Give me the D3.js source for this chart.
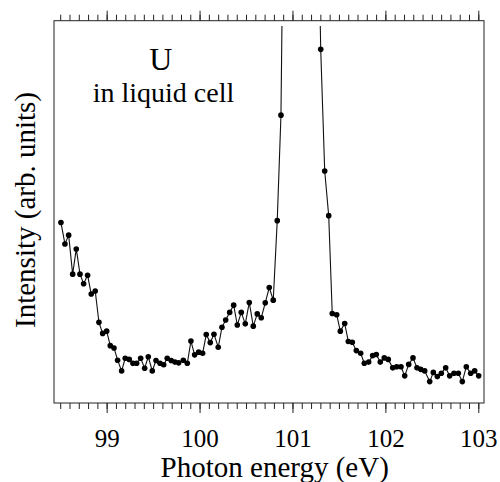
<!DOCTYPE html>
<html>
<head>
<meta charset="utf-8">
<script src="https://cdn.jsdelivr.net/npm/d3@7"></script>
<style>
  html, body { margin: 0; padding: 0; background: #fff; }
  svg { display: block; }
</style>
</head>
<body>
<svg id="chart" width="500" height="482"></svg>
<script>
// Photon energy (eV) of each measured point
const energy = [
  98.508, 98.551, 98.591, 98.634, 98.673, 98.713, 98.752, 98.795, 98.834, 98.877,
  98.917, 98.957, 99.000, 99.039, 99.079, 99.118, 99.161, 99.200, 99.243, 99.283,
  99.323, 99.366, 99.409, 99.448, 99.491, 99.531, 99.574, 99.614, 99.652, 99.695,
  99.735, 99.775, 99.825, 99.868, 99.907, 99.947, 99.990, 100.033, 100.072, 100.115,
  100.155, 100.201, 100.241, 100.281, 100.324, 100.367, 100.406, 100.449, 100.492, 100.535,
  100.578, 100.621, 100.664, 100.707, 100.750, 100.793, 100.836, 100.876,
  100.919, 100.961, 101.004, 101.047, 101.089, 101.132, 101.175, 101.218, 101.260,
  101.304, 101.347, 101.390, 101.428, 101.476, 101.515, 101.562, 101.601, 101.644, 101.687,
  101.734, 101.773, 101.820, 101.863, 101.902, 101.945, 101.988, 102.031, 102.079, 102.122,
  102.168, 102.208, 102.251, 102.297, 102.340, 102.380, 102.423, 102.477, 102.516, 102.559,
  102.602, 102.649, 102.692, 102.738, 102.785, 102.828, 102.871, 102.918, 102.961, 103.004
];
// Intensity (arb. units); the peak points run off the top of the plot
const intensity = [
  47.2, 41.6, 43.9, 33.7, 40.3, 33.7, 31.2, 33.4, 28.5, 29.3,
  21.1, 18.2, 18.8, 15.0, 14.4, 11.2, 8.4, 11.7, 11.4, 10.4,
  10.4, 11.7, 9.1, 12.1, 8.4, 11.1, 10.4, 10.0, 11.7, 11.1,
  10.7, 10.5, 11.2, 10.4, 16.2, 12.6, 13.3, 13.0, 17.9, 15.8,
  18.0, 14.6, 19.8, 21.7, 23.7, 25.6, 20.4, 23.7, 20.7, 26.3,
  20.1, 23.3, 22.3, 26.2, 30.2, 26.9, 47.7, 75.3,
  170, 290, 400, 470, 490, 450, 360, 250, 150,
  92.5, 60.7, 49.0, 23.4, 23.1, 18.8, 20.8, 16.1, 15.9, 13.7,
  13.0, 10.4, 10.7, 12.4, 12.7, 10.7, 11.8, 11.4, 9.2, 9.5,
  9.5, 7.1, 10.1, 11.8, 9.2, 8.8, 8.4, 5.6, 8.0, 6.9,
  7.8, 9.2, 7.1, 7.8, 7.8, 5.6, 9.5, 7.8, 8.4, 7.1
];
const majorTicks = [99, 100, 101, 102, 103];
const minorTicks = d3.range(985, 1031).map(d => d / 10);

const texts = {
  element: "U",
  condition: "in liquid cell",
  xLabel: "Photon energy (eV)",
  yLabel: "Intensity (arb. units)"
};

const FONT = "Liberation Serif";
const svg = d3.select("#chart");
const frame = { left: 54, right: 484, top: 20.7, bottom: 403 };

const x = d3.scaleLinear().domain([98.5, 103]).range([60.2, 478.3]);
const y = d3.scaleLinear().domain([0, 100]).range([frame.bottom, frame.top]);

// clip for data
svg.append("defs").append("clipPath").attr("id", "plotclip")
  .append("rect")
  .attr("x", frame.left).attr("y", 26)
  .attr("width", frame.right - frame.left).attr("height", frame.bottom - 26);

// frame
svg.append("rect")
  .attr("x", frame.left).attr("y", frame.top)
  .attr("width", frame.right - frame.left).attr("height", frame.bottom - frame.top)
  .attr("fill", "none").attr("stroke", "#222").attr("stroke-width", 1);

function styleAxis(g) {
  g.select(".domain").remove();
  g.attr("font-family", FONT);
  g.selectAll(".tick line").attr("stroke", "#222").attr("stroke-width", 1);
}

// bottom axis: minor and major
svg.append("g").attr("transform", `translate(0,${frame.bottom})`)
  .call(d3.axisBottom(x).tickValues(minorTicks).tickSize(6).tickFormat(""))
  .call(styleAxis);
const bottomMajor = svg.append("g").attr("transform", `translate(0,${frame.bottom})`)
  .call(d3.axisBottom(x).tickValues(majorTicks).tickSize(10).tickPadding(16).tickFormat(d3.format("d")))
  .call(styleAxis);
bottomMajor.attr("font-size", 25);
bottomMajor.selectAll(".tick text")
  .attr("font-family", FONT)
  .attr("font-size", 25).attr("fill", "#000");

// top axis: ticks only
svg.append("g").attr("transform", `translate(0,${frame.top})`)
  .call(d3.axisTop(x).tickValues(minorTicks).tickSize(6).tickFormat(""))
  .call(styleAxis);
svg.append("g").attr("transform", `translate(0,${frame.top})`)
  .call(d3.axisTop(x).tickValues(majorTicks).tickSize(10).tickFormat(""))
  .call(styleAxis);

// data
const pts = energy.map((e, i) => ({ e, v: intensity[i] }));
const plot = svg.append("g").attr("clip-path", "url(#plotclip)");
plot.append("path")
  .datum(pts)
  .attr("fill", "none").attr("stroke", "#111").attr("stroke-width", 1.1)
  .attr("d", d3.line().x(d => x(d.e)).y(d => y(d.v)));
plot.selectAll("circle")
  .data(pts)
  .join("circle")
  .attr("cx", d => x(d.e)).attr("cy", d => y(d.v))
  .attr("r", 2.8).attr("fill", "#000");

// annotation texts
svg.append("text").attr("x", 160.7).attr("y", 70)
  .attr("font-family", FONT).attr("fill", "#000")
  .attr("text-anchor", "middle").attr("font-size", 32).text(texts.element);
svg.append("text").attr("x", 163.5).attr("y", 101.7)
  .attr("font-family", FONT).attr("fill", "#000")
  .attr("text-anchor", "middle").attr("font-size", 28).text(texts.condition);

// axis labels
svg.append("text").attr("x", 274.7).attr("y", 476.5)
  .attr("font-family", FONT).attr("fill", "#000")
  .attr("text-anchor", "middle").attr("font-size", 29).text(texts.xLabel);
svg.append("text")
  .attr("transform", "translate(35,210) rotate(-90)")
  .attr("font-family", FONT).attr("fill", "#000")
  .attr("text-anchor", "middle").attr("font-size", 29).text(texts.yLabel);
</script>
</body>
</html>
